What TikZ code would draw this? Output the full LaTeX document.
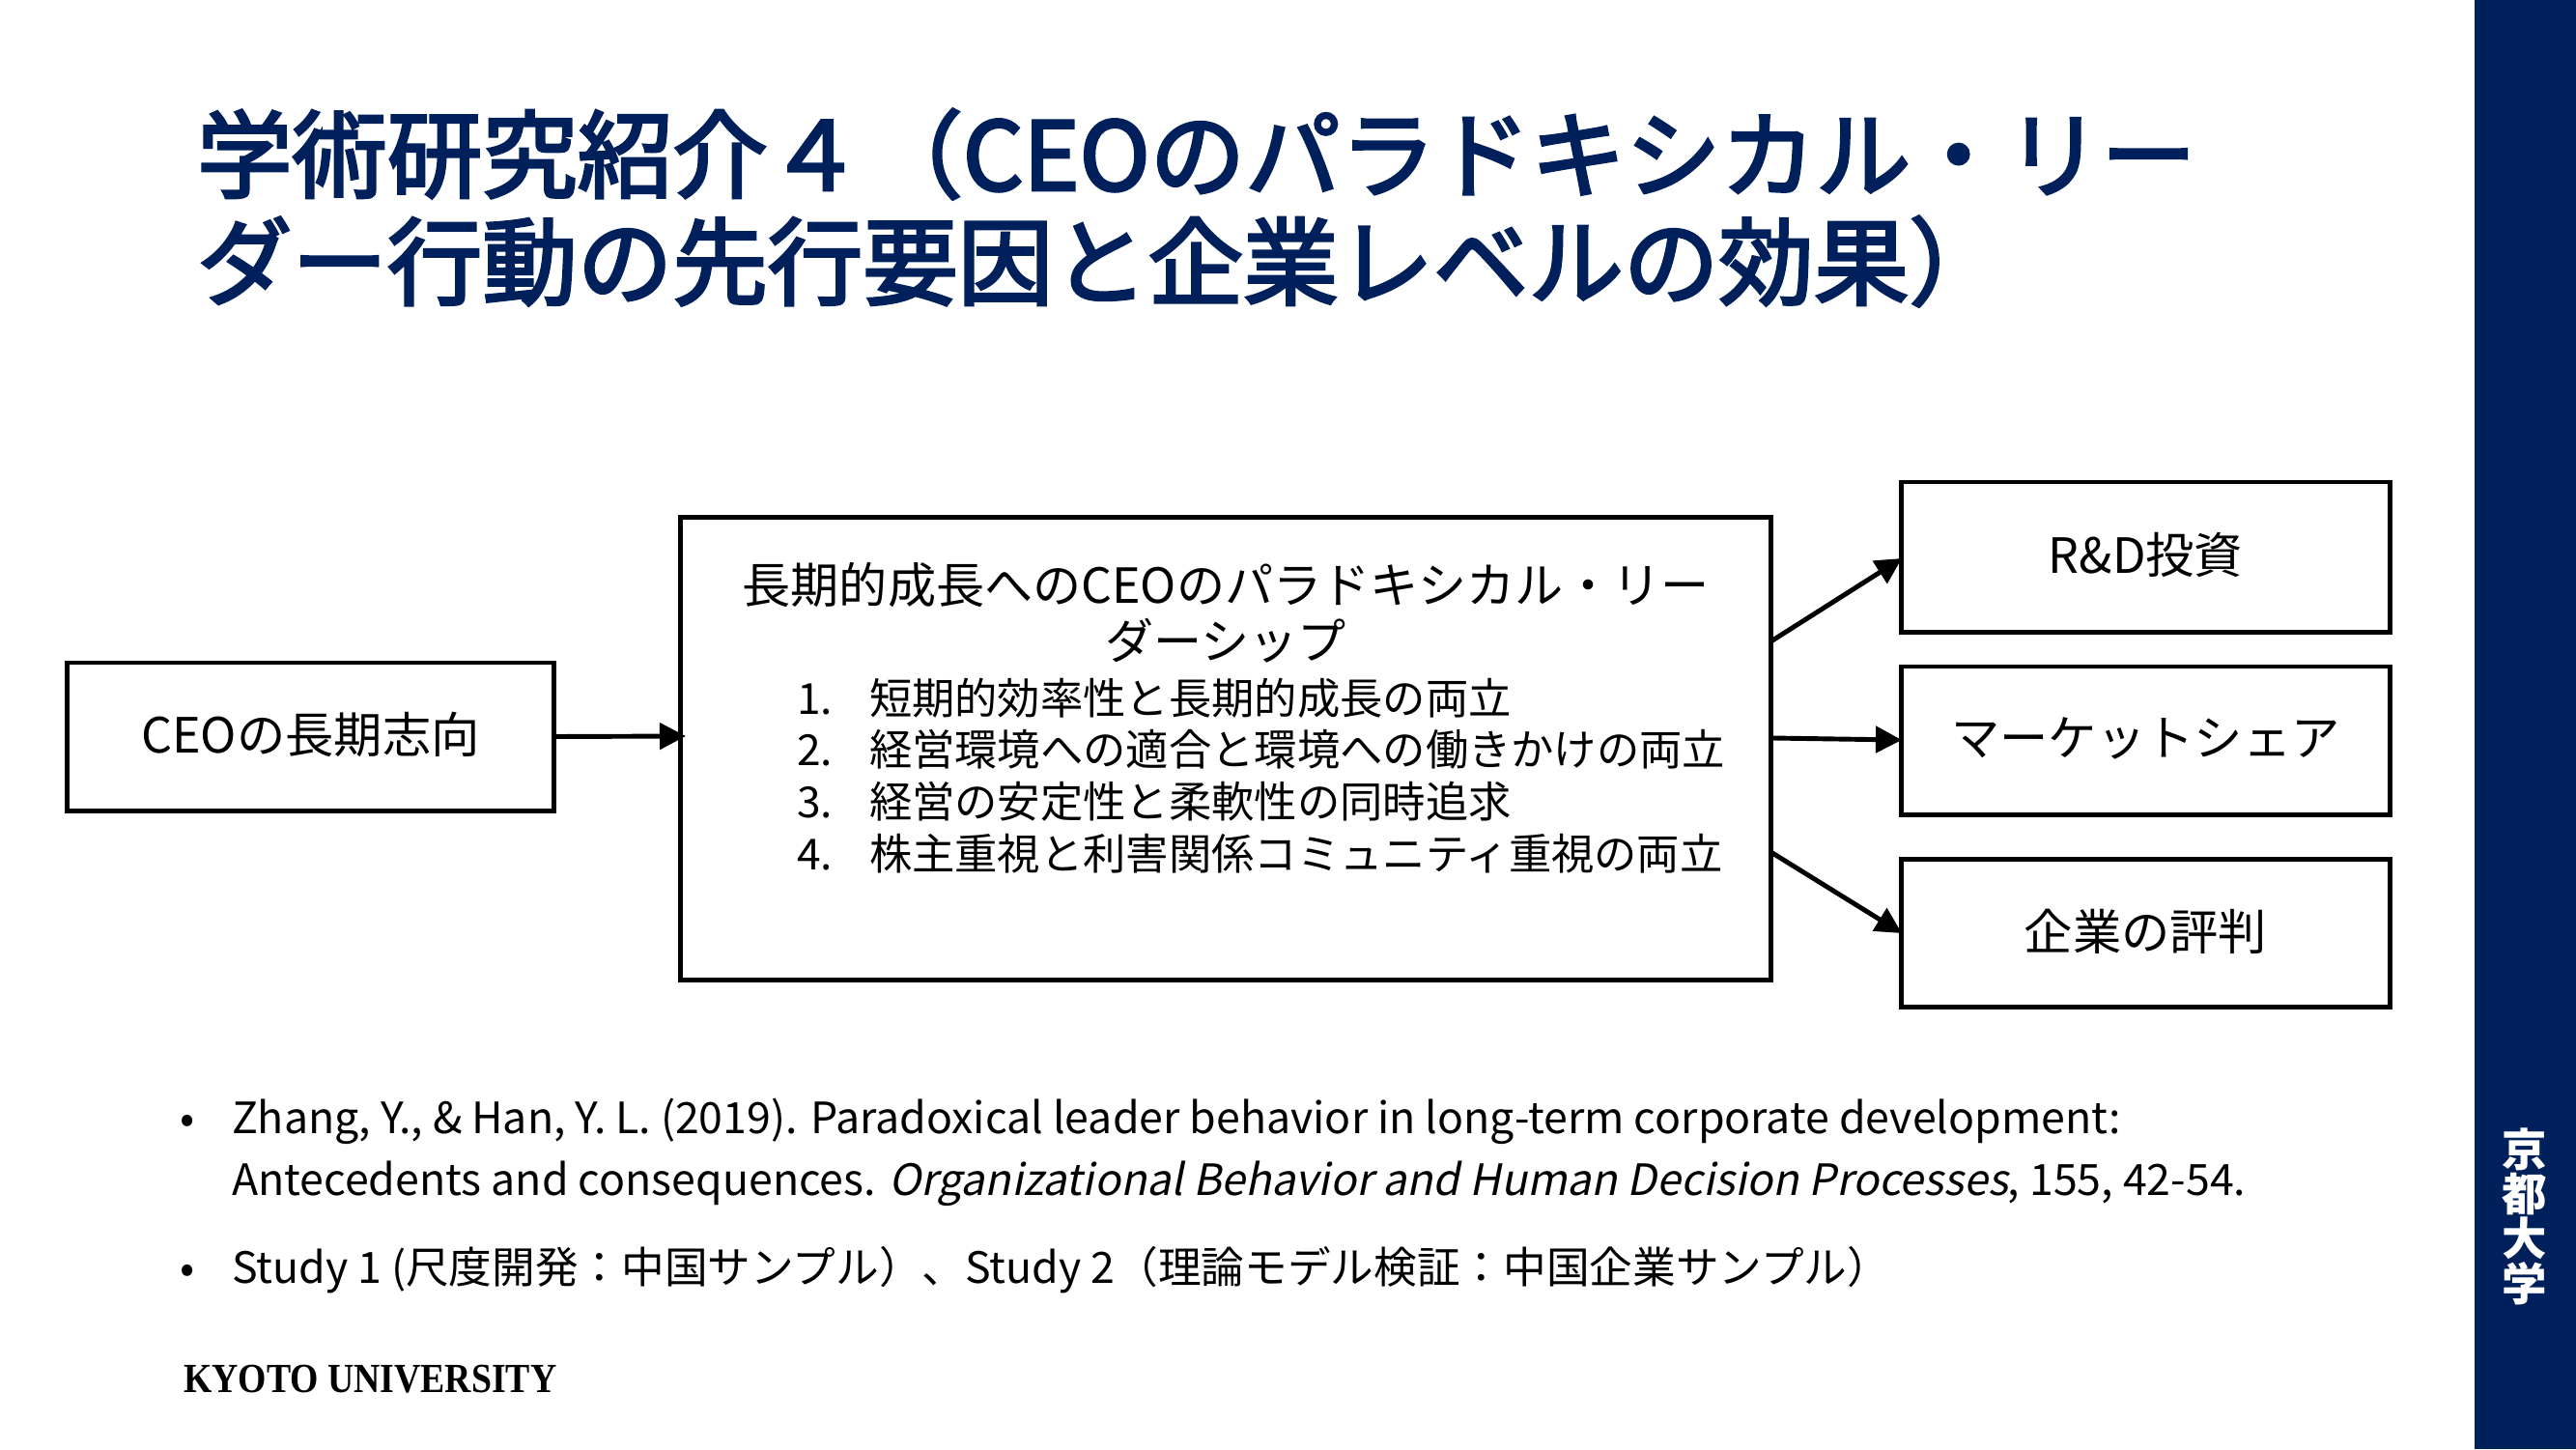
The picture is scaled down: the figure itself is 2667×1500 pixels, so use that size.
\documentclass[tikz,border=0pt]{standalone}
\usepackage{fontspec}
\usetikzlibrary{arrows.meta}
\setmainfont{Noto Sans CJK JP}
\newfontfamily\slantfont[FakeSlant=0.2]{Noto Sans CJK JP}
\newfontfamily\titlefont[FakeBold=3]{Noto Sans CJK JP}
\newfontfamily\logofont[FakeStretch=0.88]{Liberation Serif}
\definecolor{kunavy}{HTML}{00205B}
\tikzset{
  every node/.style={inner sep=0pt,outer sep=0pt,text=black},
  boxed/.style={draw=black,line width=1.4pt,fill=white,minimum height=0},
  conn/.style={draw=black,line width=1.4pt,-{Triangle[length=27*0.2845pt,width=27*0.2845pt]},shorten >=0pt},
  titletext/.style={anchor=base west,text=kunavy,font=\fontsize{28}{28}\titlefont},
  boxlabel/.style={font=\fontsize{14.3}{14.3}\selectfont},
  heading/.style={anchor=base,font=\fontsize{14.25}{14.25}\selectfont},
  itemtext/.style={anchor=base west,font=\fontsize{12.6}{12.6}\selectfont},
  reftext/.style={anchor=base west,font=\fontsize{12.7}{12.7}\selectfont}
}
\begin{document}
\begin{tikzpicture}[x=0.01cm,y=-0.01cm]
\useasboundingbox (0,0) rectangle (2667,1500);
\fill[kunavy] (2562,0) rectangle (2667,1500);

\node[titletext] (t1) at (204,197) {学術研究紹介４ \hspace{-4.8pt}（CEOのパラドキシカル・リー};
\node[titletext] (t2) at (204,308) {ダー行動の先行要因と企業レベルの効果）};

\node[boxed,minimum width=503*0.2845pt,minimum height=153*0.2845pt] (left) at (321.5,762.5) {};
\node[boxlabel] (leftl) at (321.5,760) {CEOの長期志向};

\node[boxed,minimum width=1129*0.2845pt,minimum height=478*0.2845pt] (mid) at (1269,775) {};
\node[heading] (h1) at (1269,624) {長期的成長へのCEOのパラドキシカル・リー};
\node[heading] (h2) at (1269,682) {ダーシップ};
\node[itemtext] (n1) at (825,739) {1.};
\node[itemtext] (i1) at (900,739) {短期的効率性と長期的成長の両立};
\node[itemtext] (n2) at (825,792) {2.};
\node[itemtext] (i2) at (900,792) {経営環境への適合と環境への働きかけの両立};
\node[itemtext] (n3) at (825,846) {3.};
\node[itemtext] (i3) at (900,846) {経営の安定性と柔軟性の同時追求};
\node[itemtext] (n4) at (825,900) {4.};
\node[itemtext] (i4) at (900,900) {株主重視と利害関係コミュニティ重視の両立};

\node[boxed,minimum width=505*0.2845pt,minimum height=155*0.2845pt] (r1) at (2221.5,576.5) {};
\node[boxlabel] (r1l) at (2221.5,574) {R\&D投資};
\node[boxed,minimum width=505*0.2845pt,minimum height=153*0.2845pt] (r2) at (2221.5,766.5) {};
\node[boxlabel] (r2l) at (2221.5,764) {マーケットシェア};
\node[boxed,minimum width=505*0.2845pt,minimum height=153*0.2845pt] (r3) at (2221.5,966) {};
\node[boxlabel] (r3l) at (2221.5,964) {企業の評判};

\coordinate (m1) at (1835,663);
\coordinate (m2) at (1835,764);
\coordinate (m3) at (1835,883);
\coordinate (e0) at (710,762);
\coordinate (e1) at (1969,578);
\coordinate (e2) at (1969,766);
\coordinate (e3) at (1969,966);
\draw[conn] (left.east) -- (e0);
\draw[conn] (m1) -- (e1);
\draw[conn] (m2) -- (e2);
\draw[conn] (m3) -- (e3);

\node[reftext] (b1) at (186,1173) {•};
\node[reftext] (r1a) at (240,1173) {Zhang, Y., \& Han, Y. L. (2019). Paradoxical leader behavior in long-term corporate development:};
\node[reftext] (r1b) at (240,1237) {Antecedents and consequences. {\slantfont Organizational Behavior and Human Decision Processes}, 155, 42-54.};
\node[reftext] (b2) at (186,1328) {•};
\node[reftext] (r2a) at (240,1328) {Study 1 (尺度開発：中国サンプル）、Study 2（理論モデル検証：中国企業サンプル）};

\node[anchor=base west,font=\fontsize{12.2}{12.2}\logofont\bfseries] (logo) at (190,1441) {KYOTO UNIVERSITY};
\node[text=white,font=\fontsize{13.2}{13.2}\selectfont\bfseries,align=center] (ku) at (2614,1259) {京\\都\\大\\学};
\end{tikzpicture}
\end{document}
